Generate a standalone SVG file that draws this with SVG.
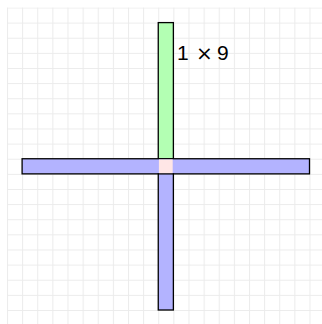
<svg xmlns="http://www.w3.org/2000/svg" width="322" height="324" viewBox="0 0 322 324">
<defs>
<pattern id="grid" x="7" y="7.5" width="15.125" height="15.125" patternUnits="userSpaceOnUse">
<path d="M0.5 0 V15.125 M0 0.5 H15.125" fill="none" stroke="#ebebeb" stroke-width="1"/>
</pattern>
</defs>
<style>
.bar{stroke:#000;stroke-width:1.3}
.green{fill:#b3ffb3}
.blue{fill:#b3b3ff}
.pink{fill:#ffe6e6}
.lbl{font-family:"Liberation Sans",Arial,sans-serif;font-size:21px;fill:#000}
</style>
<rect width="322" height="324" fill="#fff"/>
<rect x="7" y="7.5" width="315" height="316.5" fill="url(#grid)"/>
<g id="connectors"/>
<g id="top">
<rect class="bar green" x="158.25" y="22.6" width="15.125" height="136.1"/>
</g>
<g id="horizontal">
<rect class="bar blue" x="22.1" y="158.75" width="287.4" height="15.125"/>
</g>
<g id="bottom">
<rect class="bar blue" x="158.25" y="173.9" width="15.125" height="136.1"/>
</g>
<g id="center">
<rect class="pink" x="158.9" y="159.4" width="13.8" height="13.8"/>
</g>
<g id="label">
<text class="lbl" y="59.5"><tspan x="177">1</tspan><tspan x="196" font-family="DejaVu Sans, sans-serif" font-size="20">×</tspan><tspan x="217">9</tspan></text>
</g>
</svg>
